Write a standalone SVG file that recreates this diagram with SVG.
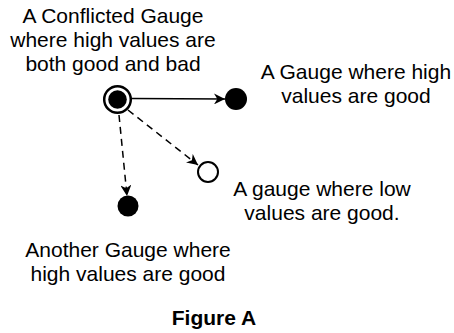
<svg xmlns="http://www.w3.org/2000/svg" width="454" height="333" viewBox="0 0 454 333">
<style>
text{font-family:"Liberation Sans",Arial,sans-serif;font-size:21px;fill:#000;text-anchor:middle}
.b{font-weight:bold}
.e{stroke:#000;stroke-width:1.5;fill:none}
.d{stroke-dasharray:7 5}
</style>
<defs>
<marker id="ah" viewBox="0 0 10 10" refX="10" refY="5" markerWidth="11" markerHeight="11" markerUnits="userSpaceOnUse" orient="auto">
<path d="M0,0 L10,5 L0,10 L3,5 Z" fill="#000"/>
</marker>
</defs>
<rect width="454" height="333" fill="#fff"/>
<g id="edges">
<line class="e" x1="132" y1="98.5" x2="225" y2="99" marker-end="url(#ah)"/>
<line class="e d" x1="128" y1="110" x2="198" y2="165" marker-end="url(#ah)"/>
<line class="e d" x1="119" y1="115" x2="127" y2="196" marker-end="url(#ah)"/>
</g>
<g id="conflicted">
<circle cx="117.5" cy="99.5" r="13.3" fill="#fff" stroke="#000" stroke-width="2.5"/>
<circle cx="117.5" cy="99.5" r="9.3" fill="#000"/>
<text x="113" y="23">A Conflicted Gauge</text>
<text x="113" y="47">where high values are</text>
<text x="113" y="71">both good and bad</text>
</g>
<g id="high">
<circle cx="236" cy="99" r="11" fill="#000"/>
<text x="356" y="79">A Gauge where high</text>
<text x="356" y="103">values are good</text>
</g>
<g id="low">
<circle cx="208" cy="172" r="10" fill="#fff" stroke="#000" stroke-width="2"/>
<text x="322" y="196">A gauge where low</text>
<text x="322" y="220">values are good.</text>
</g>
<g id="another">
<circle cx="128" cy="206" r="10.5" fill="#000"/>
<text x="128" y="257">Another Gauge where</text>
<text x="128" y="281">high values are good</text>
</g>
<text class="b" x="214" y="325">Figure A</text>
</svg>
